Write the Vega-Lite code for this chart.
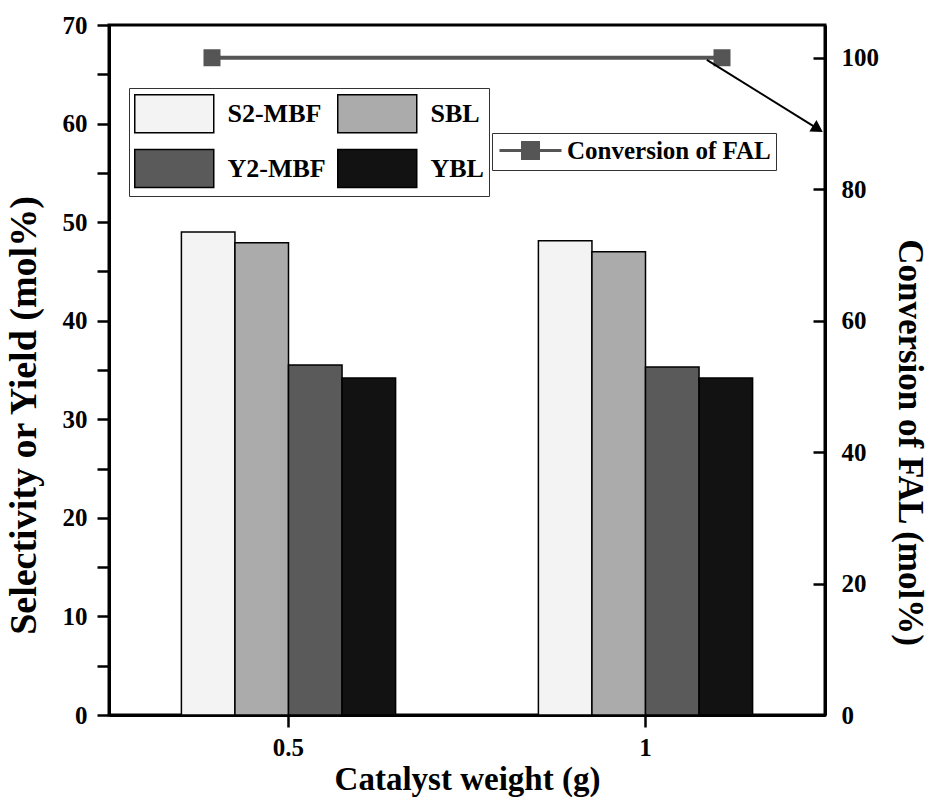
{
  "$schema": "https://vega.github.io/schema/vega-lite/v6.json",
  "width": 716,
  "height": 690,
  "autosize": {"type": "none"},
  "padding": {"left": 109, "top": 25, "right": 108, "bottom": 85},
  "background": "white",
  "config": {
    "view": {"stroke": "black", "strokeWidth": 3},
    "font": "Liberation Serif",
    "axis": {
      "labelFont": "Liberation Serif",
      "labelFontWeight": "bold",
      "labelColor": "black",
      "titleFont": "Liberation Serif",
      "titleFontWeight": "bold",
      "titleColor": "black",
      "domainColor": "black",
      "domainWidth": 3,
      "tickColor": "black",
      "tickWidth": 2.5,
      "grid": false
    },
    "legend": {
      "labelFont": "Liberation Serif",
      "labelFontWeight": "bold",
      "labelColor": "black",
      "labelLimit": 500
    }
  },
  "datasets": {
    "bars": [
      {"weight": "0.5", "series": "S2-MBF", "value": 49.0},
      {"weight": "0.5", "series": "SBL", "value": 47.9},
      {"weight": "0.5", "series": "Y2-MBF", "value": 35.5},
      {"weight": "0.5", "series": "YBL", "value": 34.2},
      {"weight": "1", "series": "S2-MBF", "value": 48.1},
      {"weight": "1", "series": "SBL", "value": 47.0},
      {"weight": "1", "series": "Y2-MBF", "value": 35.3},
      {"weight": "1", "series": "YBL", "value": 34.2}
    ],
    "conv": [
      {"weight": "0.5", "pos": "S2-MBF", "conversion": 100, "label": "Conversion of FAL"},
      {"weight": "1", "pos": "YBL", "conversion": 100, "label": "Conversion of FAL"}
    ],
    "arrow": [
      {"xa": 1.085, "ya": 99.7, "xb": 1.24, "yb": 89.2}
    ]
  },
  "layer": [
    {
      "data": {"name": "bars"},
      "mark": {"type": "bar", "stroke": "black", "strokeWidth": 1.5},
      "encoding": {
        "x": {
          "field": "weight", "type": "nominal",
          "scale": {"paddingInner": 0.4, "paddingOuter": 0.2028},
          "axis": {
            "title": "Catalyst weight (g)", "titleFontSize": 33, "titlePadding": 3,
            "labelFontSize": 25, "labelAngle": 0, "tickSize": 12, "labelPadding": 8
          }
        },
        "xOffset": {
          "field": "series", "type": "nominal",
          "sort": ["S2-MBF", "SBL", "Y2-MBF", "YBL"],
          "scale": {"paddingInner": 0, "paddingOuter": 0}
        },
        "y": {
          "field": "value", "type": "quantitative",
          "scale": {"domain": [0, 70], "nice": false},
          "axis": {
            "orient": "left",
            "title": "Selectivity or Yield (mol%)", "titleFontSize": 38, "titlePadding": 19,
            "titleY": 390,
            "values": [0, 5, 10, 15, 20, 25, 30, 35, 40, 45, 50, 55, 60, 65, 70],
            "labelExpr": "datum.value % 10 === 0 ? datum.label : ''",
            "labelFontSize": 25, "tickSize": 12, "labelPadding": 10,
            "encode": {
              "ticks": {
                "update": {"x2": {"signal": "datum.value % 10 === 0 ? -12 : -7"}}
              }
            }
          }
        },
        "fill": {
          "field": "series", "type": "nominal",
          "scale": {
            "domain": ["S2-MBF", "SBL", "Y2-MBF", "YBL"],
            "range": ["#f3f3f3", "#ababab", "#5a5a5a", "#121212"]
          },
          "legend": {
            "title": null,
            "orient": "none",
            "legendX": 20,
            "legendY": 63,
            "columns": 2,
            "direction": "horizontal",
            "symbolType": "M-1,-0.96H3V0.96H-1Z",
            "symbolSize": 1560.25,
            "symbolStrokeColor": "black",
            "symbolStrokeWidth": 1.5,
            "labelFontSize": 26,
            "labelOffset": 52.5,
            "columnPadding": 8,
            "rowPadding": 10,
            "padding": 5,
            "strokeColor": "#333333"
          }
        }
      }
    },
    {
      "data": {"name": "conv"},
      "mark": {"type": "line", "strokeWidth": 4},
      "encoding": {
        "x": {
          "field": "weight", "type": "nominal",
          "scale": {"paddingInner": 0.4, "paddingOuter": 0.2028},
          "axis": null
        },
        "xOffset": {
          "field": "pos", "type": "nominal",
          "scale": {"domain": ["S2-MBF", "SBL", "Y2-MBF", "YBL"], "padding": 0.6}
        },
        "y": {
          "field": "conversion", "type": "quantitative",
          "scale": {"domain": [0, 105], "nice": false},
          "axis": {
            "orient": "right",
            "title": "Conversion of FAL (mol%)", "titleFontSize": 35, "titlePadding": 13,
            "titleY": 417,
            "values": [0, 20, 40, 60, 80, 100],
            "labelFontSize": 25, "tickSize": -12, "labelPadding": 28
          }
        },
        "stroke": {
          "field": "label", "type": "nominal",
          "scale": {"range": ["#555555"]},
          "legend": {
            "title": null,
            "orient": "none",
            "legendX": 383,
            "legendY": 108,
            "symbolType": "M-1,0H1.3M1.3,-0.8H2.9V0.8H1.3ZM2.9,0H5.2",
            "symbolSize": 400,
            "symbolStrokeWidth": 3,
            "symbolFillColor": "#555555",
            "labelFontSize": 25,
            "labelOffset": 45,
            "padding": 5,
            "strokeColor": "#333333"
          }
        }
      }
    },
    {
      "data": {"name": "conv"},
      "mark": {"type": "point", "shape": "square", "filled": true, "fill": "#555555", "size": 225, "opacity": 1},
      "encoding": {
        "x": {
          "field": "weight", "type": "nominal",
          "scale": {"paddingInner": 0.4, "paddingOuter": 0.2028},
          "axis": null
        },
        "xOffset": {
          "field": "pos", "type": "nominal",
          "scale": {"domain": ["S2-MBF", "SBL", "Y2-MBF", "YBL"], "padding": 0.6}
        },
        "y": {
          "field": "conversion", "type": "quantitative",
          "scale": {"domain": [0, 105], "nice": false},
          "axis": null
        },
        "stroke": {"field": "label", "type": "nominal"}
      }
    },
    {
      "data": {"name": "arrow"},
      "mark": {"type": "rule", "stroke": "black", "strokeWidth": 2},
      "encoding": {
        "x": {"field": "xa", "type": "quantitative", "scale": {"domain": [0.25, 1.25], "nice": false, "zero": false}, "axis": null},
        "x2": {"field": "xb"},
        "y": {"field": "ya", "type": "quantitative", "scale": {"domain": [0, 105], "nice": false}, "axis": null},
        "y2": {"field": "yb"}
      }
    },
    {
      "data": {"name": "arrow"},
      "mark": {"type": "point", "shape": "triangle-right", "filled": true, "fill": "black", "size": 180, "angle": 32, "opacity": 1},
      "encoding": {
        "x": {"field": "xb", "type": "quantitative", "scale": {"domain": [0.25, 1.25], "nice": false, "zero": false}, "axis": null},
        "y": {"field": "yb", "type": "quantitative", "scale": {"domain": [0, 105], "nice": false}, "axis": null}
      }
    }
  ],
  "resolve": {"scale": {"x": "independent", "y": "independent", "xOffset": "independent"}}
}
